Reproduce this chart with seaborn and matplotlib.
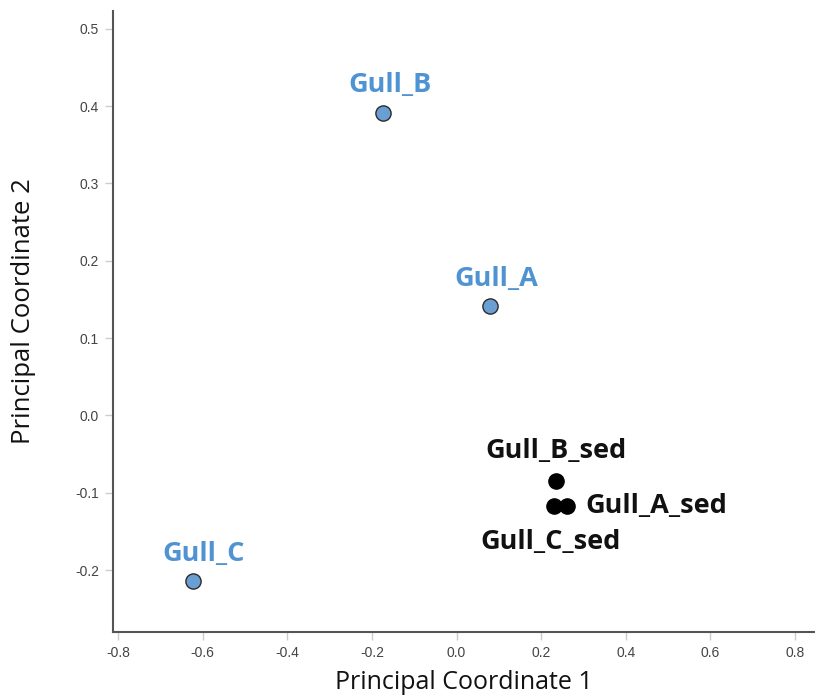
import pandas as pd
import numpy as np
import matplotlib
matplotlib.use("Agg")
import matplotlib.pyplot as plt
import seaborn as sns

# PCoA coordinates
samples = ["Gull_A", "Gull_B", "Gull_C", "Gull_A_sed", "Gull_B_sed", "Gull_C_sed"]
pc1 = [0.080, -0.175, -0.623, 0.260, 0.234, 0.231]
pc2 = [0.142, 0.391, -0.214, -0.117, -0.085, -0.117]
sample_type = ["gull", "gull", "gull", "sediment", "sediment", "sediment"]

x_ticks = [-0.8, -0.6, -0.4, -0.2, 0.0, 0.2, 0.4, 0.6, 0.8]
y_ticks = [-0.2, -0.1, 0.0, 0.1, 0.2, 0.3, 0.4, 0.5]

# label placement per sample (pixel offsets from the point)
label_offsets = {
    "Gull_A": (6, 27, "center"),
    "Gull_B": (7, 28, "center"),
    "Gull_C": (11, 27, "center"),
    "Gull_A_sed": (19, 0, "left"),
    "Gull_B_sed": (0, 30, "center"),
    "Gull_C_sed": (-4, -36, "center"),
}

df = pd.DataFrame({"sample": samples, "pc1": pc1, "pc2": pc2, "type": sample_type})

sns.set_style("ticks")
plt.rcParams["font.family"] = ["Liberation Sans", "DejaVu Sans"]

fig = plt.figure(figsize=(8.15, 7), dpi=100)
ax = fig.add_axes([113 / 815, 1 - 632 / 700, 1 - 113 / 815, (632 - 11) / 700])

palette = {"gull": "#6a9fd3", "sediment": "#000000"}
edges = {"gull": "#2b2b2b", "sediment": "#000000"}
for t, sub in df.groupby("type"):
    sns.scatterplot(data=sub, x="pc1", y="pc2", color=palette[t], edgecolor=edges[t],
                    linewidth=1.0, s=120, ax=ax, legend=False, zorder=3)

label_colors = {"gull": "#4f93d2", "sediment": "#111111"}
for _, row in df.iterrows():
    dx, dy, ha = label_offsets[row["sample"]]
    ax.annotate(row["sample"], (row["pc1"], row["pc2"]), xytext=(dx, dy),
                textcoords="offset pixels", ha=ha, va="center",
                fontsize=19.5, fontweight="bold", family=["Open Sans", "DejaVu Sans"],
                color=label_colors[row["type"]])

ax.set_xlim(-0.812, 0.847)
ax.set_ylim(-0.280, 0.523)
ax.set_xticks(x_ticks)
ax.set_yticks(y_ticks)
ax.set_xticklabels([f"{v:.1f}" for v in x_ticks])
ax.set_yticklabels([f"{v:.1f}" for v in y_ticks])

for side in ["top", "right"]:
    ax.spines[side].set_visible(False)
for side in ["left", "bottom"]:
    ax.spines[side].set_color("#555555")
    ax.spines[side].set_linewidth(1.5)

ax.tick_params(axis="both", which="major", bottom=True, left=True, length=6, width=1,
               color="#cccccc", labelsize=10, labelcolor="#444444", pad=4, direction="out")

ax.set_xlabel("Principal Coordinate 1", fontsize=18, family=["Open Sans", "DejaVu Sans"],
              color="#111111", va="top")
ax.set_ylabel("Principal Coordinate 2", fontsize=18.5, family=["Open Sans", "DejaVu Sans"],
              color="#111111")
ax.xaxis.set_label_coords((464 - 113) / 702, (632 - 670) / 621)
ax.yaxis.set_label_coords((36 - 113) / 702, (632 - 311) / 621)

plt.savefig("out.png", dpi=100)
plt.close()
